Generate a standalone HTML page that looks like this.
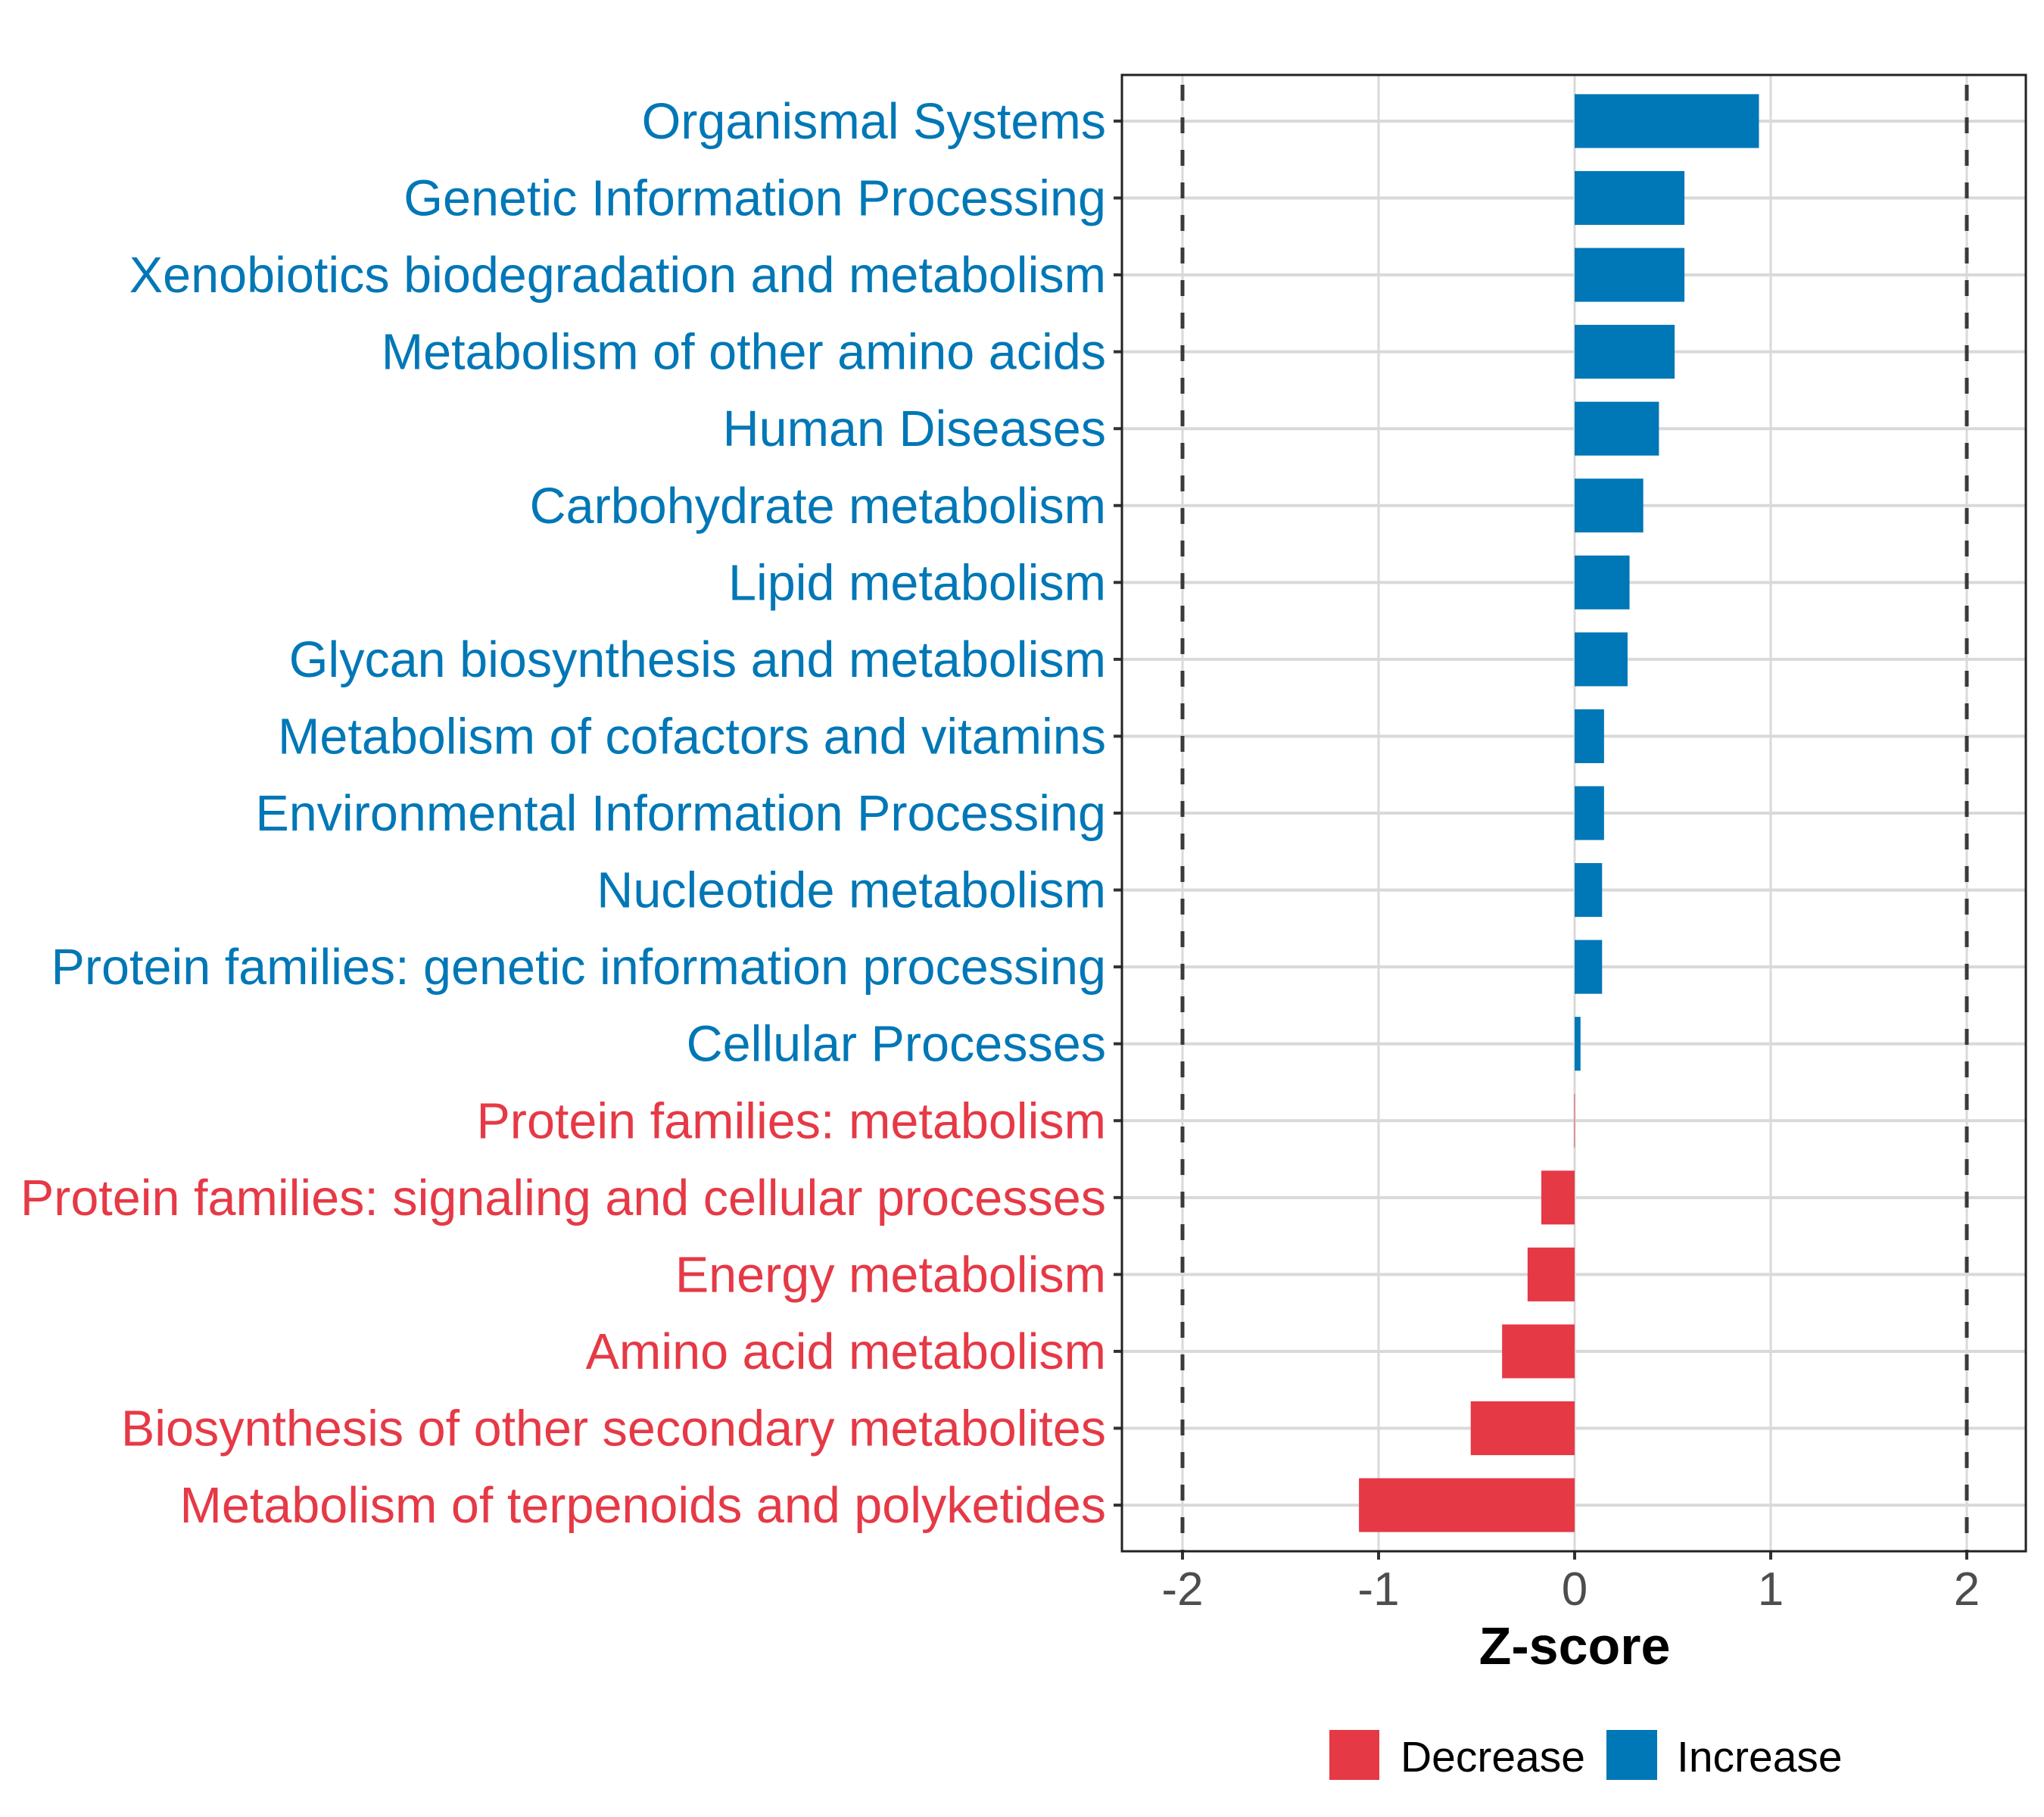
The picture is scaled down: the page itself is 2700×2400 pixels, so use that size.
<!DOCTYPE html>
<html><head><meta charset="utf-8"><style>
html,body{margin:0;padding:0;background:#fff;}
svg{display:block;font-family:"Liberation Sans",Arial,sans-serif;}
</style></head><body>
<svg id="chart" width="2700" height="2400" viewBox="0 0 2700 2400" xmlns="http://www.w3.org/2000/svg">
<g id="grid"></g>
<g id="bars"></g>
<g id="ylabels"></g>
<g id="xaxis"></g>
<text x="2080" y="2198" font-size="70" font-weight="bold" text-anchor="middle" fill="#000">Z-score</text>
<g>
<rect x="1756" y="2285" width="66" height="66" fill="#E63946"/>
<text x="1850" y="2340" font-size="57" fill="#000">Decrease</text>
<rect x="2122" y="2285" width="67" height="66" fill="#0077B6"/>
<text x="2215" y="2340" font-size="57" fill="#000">Increase</text>
</g>
</svg>
<script>
const categories = ["Organismal Systems","Genetic Information Processing","Xenobiotics biodegradation and metabolism","Metabolism of other amino acids","Human Diseases","Carbohydrate metabolism","Lipid metabolism","Glycan biosynthesis and metabolism","Metabolism of cofactors and vitamins","Environmental Information Processing","Nucleotide metabolism","Protein families: genetic information processing","Cellular Processes","Protein families: metabolism","Protein families: signaling and cellular processes","Energy metabolism","Amino acid metabolism","Biosynthesis of other secondary metabolites","Metabolism of terpenoids and polyketides"];
const zscores = [0.94,0.56,0.56,0.51,0.43,0.35,0.28,0.27,0.15,0.15,0.14,0.14,0.03,-0.002,-0.17,-0.24,-0.37,-0.53,-1.10];
const xTicks = [-2,-1,0,1,2];
const xTickLabels = ["-2","-1","0","1","2"];
const thresholds = [-2,2];

const NS="http://www.w3.org/2000/svg";
const PL=1482, PR=2676, PT=99, PB=2049;
const x = v => 2080 + v*259;
const band = (PB-PT)/(categories.length-1+1.2);
const y = i => PT + band*0.6 + i*band;
function mk(tag, attrs, parent){const e=document.createElementNS(NS,tag);for(const k in attrs)e.setAttribute(k,attrs[k]);parent.appendChild(e);return e;}
const grid=document.getElementById('grid'), bars=document.getElementById('bars'), yl=document.getElementById('ylabels'), xa=document.getElementById('xaxis');
const svg=document.getElementById('chart');
xTicks.forEach((t,i)=>{
  const l=mk('line',{x1:x(t),x2:x(t),y1:PT,y2:PB,stroke:'#D9D9D9','stroke-width':3},grid);
  
  
});
categories.forEach((c,i)=>{
  const l=mk('line',{x1:PL,x2:PR,y1:y(i),y2:y(i),stroke:'#D9D9D9','stroke-width':4},grid);
  
  
});
thresholds.forEach(t=>{
  const l=mk('line',{x1:x(t),x2:x(t),y1:PT,y2:PB,stroke:'#3a3a3a','stroke-width':5,'stroke-dasharray':'21 22','stroke-dashoffset':'-13'},grid);
  
  
});
categories.forEach((c,i)=>{
  const v=zscores[i], col=v>=0?'#0077B6':'#E63946';
  const h=band*0.7;
  const r=mk('rect',{x:Math.min(x(0),x(v)),y:y(i)-h/2,width:Math.max(Math.abs(x(v)-x(0)),0.8),height:h,fill:col},bars);
  
  
  const t=mk('text',{x:1461,y:y(i)+23,'font-size':66.5,'text-anchor':'end',fill:col},yl);
  t.textContent=c;
  
  
  const tk=mk('line',{x1:1471,x2:PL,y1:y(i),y2:y(i),stroke:'#333','stroke-width':4},yl);
  
  
});
const pb=mk('rect',{x:PL,y:PT,width:PR-PL,height:PB-PT,fill:'none',stroke:'#222','stroke-width':3},svg);


xTicks.forEach((t,i)=>{
  const tk=mk('line',{x1:x(t),x2:x(t),y1:PB,y2:PB+11,stroke:'#333','stroke-width':4},xa);
  
  
  const lb=mk('text',{x:x(t),y:2120,'font-size':62,'text-anchor':'middle',fill:'#4D4D4D'},xa);
  lb.textContent=xTickLabels[i];
  
  
});
</script>
</body></html>
